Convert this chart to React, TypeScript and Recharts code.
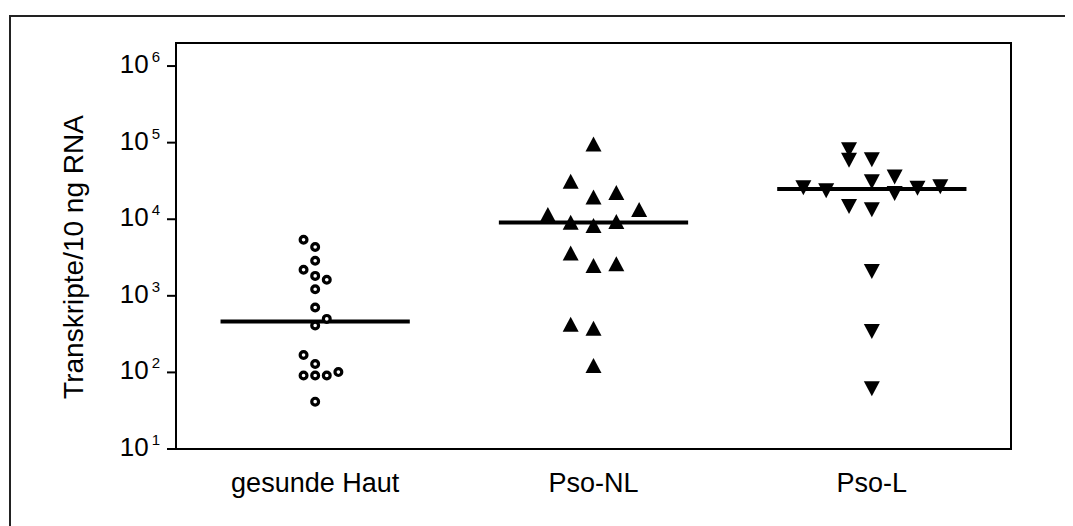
import { ScatterChart, Scatter, XAxis, YAxis, ReferenceLine, ReferenceArea, Label } from 'recharts';

// Gruppen und Achsen
const gruppen = ['gesunde Haut', 'Pso-NL', 'Pso-L'];
const yTicks = [10, 100, 1000, 10000, 100000, 1000000];
const yTitel = 'Transkripte/10 ng RNA';

// gesunde Haut (offene Kreise)
const gesundeWerte = [5400, 4330, 2870, 2190, 1820, 1620, 1220, 703, 500, 409, 169, 129, 91, 91, 91, 101, 41.5];
const gesundeSpalte = [-1, 0, 0, -1, 0, 1, 0, 0, 1, 0, -1, 0, -1, 0, 1, 2, 0];

// Pso-NL (Dreiecke)
const nlWerte = [96000, 31400, 19500, 22400, 13400, 11500, 9130, 8300, 9350, 3610, 2490, 2620, 426, 378, 123];
const nlSpalte = [0, -1, 0, 1, 2, -2, -1, 0, 1, -1, 0, 1, -1, 0, 0];

// Pso-L (umgekehrte Dreiecke)
const lWerte = [81000, 59000, 60000, 25800, 23600, 14700, 30900, 13300, 35600, 21700, 25300, 26600, 2080, 341, 61];
const lSpalte = [-1, -1, 0, -3, -2, -1, 0, 0, 1, 1, 2, 3, 0, 0, 0];

// Mediane
const mediane = [461, 9080, 24800];

const FONT = '"Liberation Sans", Arial, sans-serif';

const punkte = (werte: number[], spalten: number[], gruppe: number, schritt: number) =>
  werte.map((v, i) => ({ x: gruppe + 0.5 + spalten[i] * schritt, y: v }));

const Kreis = (p: any) => (
  <circle cx={p.cx} cy={p.cy} r={3.4} fill="#fff" stroke="#000" strokeWidth={3.2} />
);

const DreieckAuf = (p: any) => (
  <polygon
    points={`${p.cx},${p.cy - 7.5} ${p.cx + 8},${p.cy + 7.5} ${p.cx - 8},${p.cy + 7.5}`}
    fill="#000"
  />
);

const DreieckAb = (p: any) => (
  <polygon
    points={`${p.cx - 8},${p.cy - 7.5} ${p.cx + 8},${p.cy - 7.5} ${p.cx},${p.cy + 7.5}`}
    fill="#000"
  />
);

const YTick = (p: any) => {
  const exp = Math.round(Math.log10(p.payload.value));
  return (
    <text x={p.x - 5} y={p.y} textAnchor="end" fontSize={26} fill="#000" fontFamily={FONT}>
      <tspan dy={7}>10</tspan>
      <tspan dy={-11} dx={3} fontSize={15}>{exp}</tspan>
    </text>
  );
};

const XTick = (p: any) => (
  <text x={p.x} y={p.y} dy={35} textAnchor="middle" fontSize={27} fill="#000" fontFamily={FONT}>
    {gruppen[Math.floor(p.payload.value)]}
  </text>
);

const App = () => {
  return (
    <>
      <style>{'html{overflow:hidden}'}</style>
      <div
        style={{
          position: 'relative',
          left: 1,
          top: 7,
          borderTop: '2px solid #222',
          borderLeft: '2px solid #222',
          width: 1100,
          height: 560,
        }}
      >
        <ScatterChart width={1050} height={500} margin={{ top: 26, right: 50, bottom: 0, left: 0 }}>
          <XAxis
            type="number"
            dataKey="x"
            domain={[0, 3]}
            ticks={[0.5, 1.5, 2.5]}
            tickLine={false}
            tick={XTick}
            height={68}
            axisLine={{ stroke: '#000', strokeWidth: 2 }}
          />
          <YAxis
            type="number"
            dataKey="y"
            scale="log"
            domain={[10, 2000000]}
            allowDataOverflow
            ticks={yTicks}
            tick={YTick}
            tickSize={9}
            width={165}
            axisLine={{ stroke: '#000', strokeWidth: 2 }}
            tickLine={{ stroke: '#000', strokeWidth: 2 }}
          >
            <Label
              content={(lp: any) => {
                const vb = lp.viewBox || { y: 26, height: 406 };
                const cy = vb.y + vb.height / 2 + 11;
                return (
                  <text
                    transform={`translate(72, ${cy}) rotate(-90)`}
                    textAnchor="middle"
                    fontSize={28}
                    fill="#000"
                    fontFamily={FONT}
                  >
                    {yTitel}
                  </text>
                );
              }}
            />
          </YAxis>
          <ReferenceArea x1={0} x2={3} y1={10} y2={2000000} fill="none" stroke="#000" strokeWidth={2} />
          {mediane.map((m, i) => (
            <ReferenceLine
              key={i}
              segment={[
                { x: i + 0.5 - 0.34, y: m },
                { x: i + 0.5 + 0.34, y: m },
              ]}
              stroke="#000"
              strokeWidth={4}
            />
          ))}
          <Scatter data={punkte(gesundeWerte, gesundeSpalte, 0, 0.0417)} shape={Kreis} isAnimationActive={false} />
          <Scatter data={punkte(nlWerte, nlSpalte, 1, 0.082)} shape={DreieckAuf} isAnimationActive={false} />
          <Scatter data={punkte(lWerte, lSpalte, 2, 0.082)} shape={DreieckAb} isAnimationActive={false} />
        </ScatterChart>
      </div>
    </>
  );
};

export default App;
